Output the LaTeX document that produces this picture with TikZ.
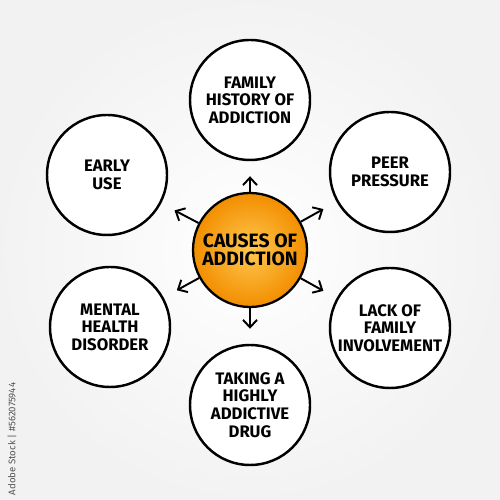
\documentclass[tikz,border=0pt]{standalone}
\usepackage{fontspec}
\setmainfont{Fira Sans}
\usetikzlibrary{arrows.meta}
\definecolor{hubin}{RGB}{255,200,80}
\definecolor{hubout}{RGB}{242,142,0}
\definecolor{stamp}{RGB}{85,85,85}
\tikzset{
  cause/.style={circle, draw=black, line width=1.4pt, fill=white, minimum size=2.4cm,
    inner sep=0pt, align=center, font=\fontsize{9.5}{10}\selectfont\bfseries},
  hub/.style={circle, draw=black, line width=1.3pt, minimum size=2.28cm, inner sep=0pt,
    inner color=hubin, outer color=hubout, align=center, font=\fontsize{11}{10.5}\selectfont\bfseries},
  spoke/.style={-{Straight Barb[length=1.5mm,width=2.8mm]}, line width=1.1pt, shorten >=0.3cm}
}
\begin{document}
\begin{tikzpicture}
\shade[inner color=white, outer color=gray!10] (0,0) rectangle (10,10);
\useasboundingbox (0,0) rectangle (10,10);

\node[hub] (hub) at (5,5) {CAUSES OF\\ADDICTION};

\node[cause] (history) at (5,8.0) {FAMILY\\HISTORY OF\\ADDICTION};
\node[cause] (early) at (2.14,6.5) {EARLY\\USE};
\node[cause] (peer) at (7.8,6.56) {PEER\\PRESSURE};
\node[cause] (mental) at (2.2,3.46) {MENTAL\\HEALTH\\DISORDER};
\node[cause] (family) at (7.8,3.44) {LACK OF\\FAMILY\\INVOLVEMENT};
\node[cause] (drug) at (5,1.9) {TAKING A\\HIGHLY\\ADDICTIVE\\DRUG};

\foreach \target in {history,early,peer,mental,family,drug}
  \draw[spoke] (hub) -- (\target);

\node[rotate=90, text=stamp, font=\fontsize{5.5}{6}\selectfont] (stock) at (0.24,1.22) {Adobe Stock | \#562075944};
\end{tikzpicture}
\end{document}
